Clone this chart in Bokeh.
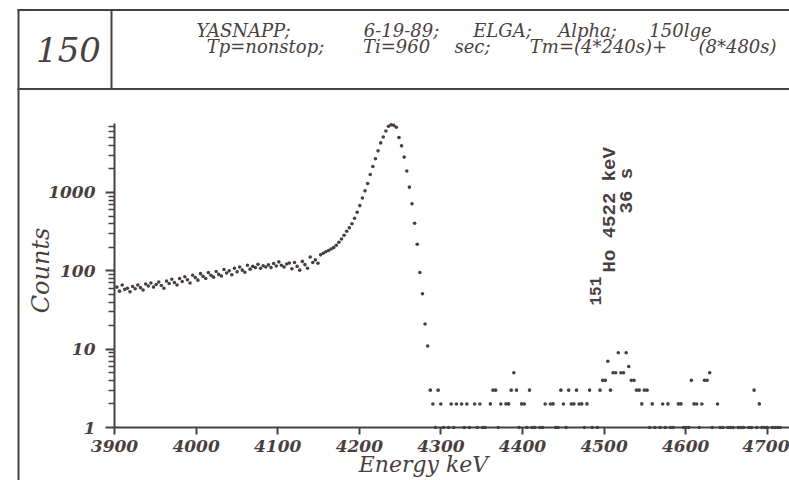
from bokeh.plotting import figure
from bokeh.models import (ColumnDataSource, Range1d, FixedTicker, PrintfTickFormatter,
                          Label, BoxAnnotation)
from bokeh.embed import file_html
from bokeh.resources import INLINE

# ---------------- data ----------------
energy_keV = [
    3903.0, 3906.2, 3909.4, 3912.6, 3915.8, 3919.0, 3922.2, 3925.4, 3928.6, 3931.8,
    3935.0, 3938.2, 3941.4, 3944.6, 3947.8, 3951.0, 3954.2, 3957.4, 3960.6, 3963.8,
    3967.0, 3970.2, 3973.4, 3976.6, 3979.8, 3983.0, 3986.2, 3989.4, 3992.6, 3995.8,
    3999.0, 4002.2, 4005.4, 4008.6, 4011.8, 4015.0, 4018.2, 4021.4, 4024.6, 4027.8,
    4031.0, 4034.2, 4037.4, 4040.6, 4043.8, 4047.0, 4050.2, 4053.4, 4056.6, 4059.8,
    4063.0, 4066.2, 4069.4, 4072.6, 4075.8, 4079.0, 4082.2, 4085.4, 4088.6, 4091.8,
    4095.0, 4098.2, 4101.4, 4104.6, 4107.8, 4111.0, 4114.2, 4117.4, 4120.6, 4123.8,
    4127.0, 4130.2, 4133.4, 4136.6, 4139.8, 4143.0, 4146.2, 4149.4, 4152.6, 4155.8,
    4159.0, 4162.2, 4165.4, 4168.6, 4171.8, 4175.0, 4178.2, 4181.4, 4184.6, 4187.8,
    4191.0, 4194.2, 4197.4, 4200.6, 4203.8, 4207.0, 4210.2, 4213.4, 4216.6, 4219.8,
    4223.0, 4226.2, 4229.4, 4232.6, 4235.8, 4239.0, 4242.2, 4245.4, 4248.6, 4251.8,
    4255.0, 4258.2, 4261.4, 4264.6, 4267.8, 4271.0, 4274.2, 4277.4, 4280.6, 4283.8,
    4287.0, 4290.2, 4293.4, 4296.6, 4299.8, 4303.0, 4306.2, 4309.4, 4312.6, 4315.8,
    4319.0, 4322.2, 4325.4, 4328.6, 4331.8, 4335.0, 4338.2, 4341.4, 4344.6, 4347.8,
    4351.0, 4354.2, 4357.4, 4360.6, 4363.8, 4367.0, 4370.2, 4373.4, 4376.6, 4379.8,
    4383.0, 4386.2, 4389.4, 4392.6, 4395.8, 4399.0, 4402.2, 4405.4, 4408.6, 4411.8,
    4415.0, 4418.2, 4421.4, 4424.6, 4427.8, 4431.0, 4434.2, 4437.4, 4440.6, 4443.8,
    4447.0, 4450.2, 4453.4, 4456.6, 4459.8, 4463.0, 4466.2, 4469.4, 4472.6, 4475.8,
    4479.0, 4482.2, 4485.4, 4488.6, 4491.8, 4495.0, 4498.2, 4501.4, 4504.6, 4507.8,
    4511.0, 4514.2, 4517.4, 4520.6, 4523.8, 4527.0, 4530.2, 4533.4, 4536.6, 4539.8,
    4543.0, 4546.2, 4549.4, 4552.6, 4555.8, 4559.0, 4562.2, 4565.4, 4568.6, 4571.8,
    4575.0, 4578.2, 4581.4, 4584.6, 4587.8, 4591.0, 4594.2, 4597.4, 4600.6, 4603.8,
    4607.0, 4610.2, 4613.4, 4616.6, 4619.8, 4623.0, 4626.2, 4629.4, 4632.6, 4635.8,
    4639.0, 4642.2, 4645.4, 4648.6, 4651.8, 4655.0, 4658.2, 4661.4, 4664.6, 4667.8,
    4671.0, 4674.2, 4677.4, 4680.6, 4683.8, 4687.0, 4690.2, 4693.4, 4696.6, 4699.8,
    4703.0, 4706.2, 4709.4, 4712.6, 4715.8,
]
counts = [
    62, 55, 66, 58, 60, 54, 63, 59, 66, 61,
    57, 68, 64, 70, 62, 67, 72, 65, 60, 74,
    69, 78, 71, 66, 80, 73, 84, 77, 70, 88,
    82, 76, 92, 85, 80, 95, 88, 83, 98, 90,
    86, 104, 94, 100, 89, 108, 97, 112, 102, 96,
    118, 105, 114, 110, 121, 108, 116, 112, 119, 110,
    124, 115, 130, 118, 112, 122, 126, 106, 128, 114,
    102, 132, 120, 108, 150, 128, 138, 125, 160, 168,
    175, 182, 190, 198, 212, 232, 255, 285, 320, 355,
    400, 470, 560, 680, 850, 1050, 1300, 1700, 2150, 2700,
    3400, 4300, 5100, 6100, 7000, 7300, 7200, 6800, 5030, 3940,
    2830, 1880, 1170, 720, 405, 218, 95, 51, 21, 11,
    3, 2, 1, 3, 2, 1, 0, 1, 2, 1,
    2, 0, 2, 1, 2, 1, 0, 2, 1, 2,
    1, 1, 0, 2, 3, 3, 1, 2, 0, 2,
    2, 3, 5, 3, 1, 2, 2, 1, 3, 1,
    1, 0, 1, 1, 2, 0, 2, 2, 1, 1,
    3, 2, 1, 3, 2, 2, 3, 2, 2, 1,
    2, 3, 1, 0, 1, 3, 4, 4, 7, 3,
    5, 5, 9, 5, 5, 9, 6, 4, 4, 3,
    3, 2, 3, 3, 1, 2, 1, 0, 1, 2,
    1, 2, 1, 1, 0, 2, 2, 1, 1, 1,
    4, 2, 2, 1, 2, 4, 4, 5, 1, 0,
    2, 1, 1, 0, 1, 1, 1, 0, 1, 1,
    1, 0, 1, 1, 3, 1, 2, 1, 1, 1,
    0, 1, 1, 1, 1,
]
x_ticks = [3900, 4000, 4100, 4200, 4300, 4400, 4500, 4600, 4700]
y_ticks = [1, 10, 100, 1000]
y_minor_ticks = [2, 3, 4, 5, 6, 7, 8, 9,
                 20, 30, 40, 50, 60, 70, 80, 90,
                 200, 300, 400, 500, 600, 700, 800, 900,
                 2000, 3000, 4000, 5000, 6000, 7000]
x_title = "Energy keV"
y_title = "Counts"
spectrum_number = "150"
header_line1 = ["YASNAPP;", "6-19-89;", "ELGA;", "Alpha;", "150lge"]
header_line2 = ["Tp=nonstop;", "Ti=960", "sec;", "Tm=(4*240s)+", "(8*480s)"]
peak_mass = "151"
peak_line = "Ho 4522 keV"
peak_time = "36 s"

assert len(energy_keV) == len(counts)

# ---------------- layout / style ----------------
INK = "#4a3f3f"
W, H = 789, 480
ROT = 1.5707963

# the frame covers the whole canvas; axes are drawn at fixed data locations
shown = [(e, c) for e, c in zip(energy_keV, counts) if c > 0]
src = ColumnDataSource(dict(energy=[e for e, _ in shown], counts=[c for _, c in shown]))

p = figure(width=W, height=H, x_range=Range1d(3760.3, 4727.2), y_range=Range1d(0.2106, 282500),
           y_axis_type="log", output_backend="svg", toolbar_location=None, min_border=0)
p.outline_line_color = None
p.grid.visible = False
p.background_fill_color = "white"
p.border_fill_color = "white"

p.scatter("energy", "counts", source=src, size=3.6, marker="circle",
          fill_color=INK, line_color=None)

xa = p.xaxis[0]
xa.fixed_location = y_ticks[0]
xa.bounds = (x_ticks[0], 4727.2)
xa.ticker = FixedTicker(ticks=x_ticks, minor_ticks=[])
xa.formatter = PrintfTickFormatter(format="%d")
xa.major_tick_out = 7
xa.major_tick_in = 0
xa.minor_tick_out = 0
xa.minor_tick_in = 0
xa.major_label_standoff = 5

ya = p.yaxis[0]
ya.fixed_location = x_ticks[0]
ya.bounds = (y_ticks[0], 7600)
ya.ticker = FixedTicker(ticks=y_ticks, minor_ticks=y_minor_ticks)
ya.formatter = PrintfTickFormatter(format="%d")
ya.major_tick_out = 9
ya.major_tick_in = 0
ya.minor_tick_out = 6
ya.minor_tick_in = 0
ya.major_label_standoff = 10

for ax in (xa, ya):
    ax.axis_line_color = INK
    ax.axis_line_width = 2
    ax.major_tick_line_color = INK
    ax.major_tick_line_width = 2
    ax.minor_tick_line_color = INK
    ax.minor_tick_line_width = 1.5
    ax.major_label_text_font = "DejaVu Serif"
    ax.major_label_text_font_style = "bold italic"
    ax.major_label_text_font_size = "17px"
    ax.major_label_text_color = INK


def label(text, x, y, size, font="DejaVu Serif", style="italic", align="center",
          angle=0.0, drop=0.4):
    # x, y: canvas pixels from the top-left corner of the wanted baseline point;
    # 'drop' compensates the renderer's baseline placement (in em)
    if angle:
        x = x - drop * size
    else:
        y = y - drop * size
    p.add_layout(Label(x=x, y=H - y, x_units="screen", y_units="screen", text=text,
                       text_font=font, text_font_size=f"{size}px", text_font_style=style,
                       text_color=INK, text_align=align, text_baseline="alphabetic",
                       angle=angle))


def rule(x0, x1, y0, y1):
    p.add_layout(BoxAnnotation(left=x0, right=x1, top=H - y0, bottom=H - y1,
                               left_units="screen", right_units="screen",
                               top_units="screen", bottom_units="screen",
                               fill_color=INK, fill_alpha=1.0, line_color=None))


# lines of the header box
rule(17, 19, 8.5, H)         # outer left line
rule(17, W, 8.5, 10.5)       # top line
rule(110, 112, 8.5, 89)      # divider
rule(17, W, 87.5, 89.5)      # line under header

# header texts
label(spectrum_number, 68, 63, 34)
for tok, cx in zip(header_line1, [243, 401, 502, 587, 680]):
    label(tok, cx, 37, 18)
for tok, cx in zip(header_line2, [265, 396, 472, 598, 737]):
    label(tok, cx, 53, 18)

# axis titles
label(y_title, 50, 270, 24, angle=ROT)
label(x_title, 423, 473, 22)

# peak annotation
label(peak_mass, 602, 305, 16, font="Liberation Mono", style="bold", align="left",
      angle=ROT, drop=0.45)
label(peak_line, 618, 272, 19, font="Liberation Mono", style="bold", align="left",
      angle=ROT, drop=0.45)
label(peak_time, 635, 213, 19, font="Liberation Mono", style="bold", align="left",
      angle=ROT, drop=0.45)

open("out.html", "w").write(file_html(p, INLINE))
